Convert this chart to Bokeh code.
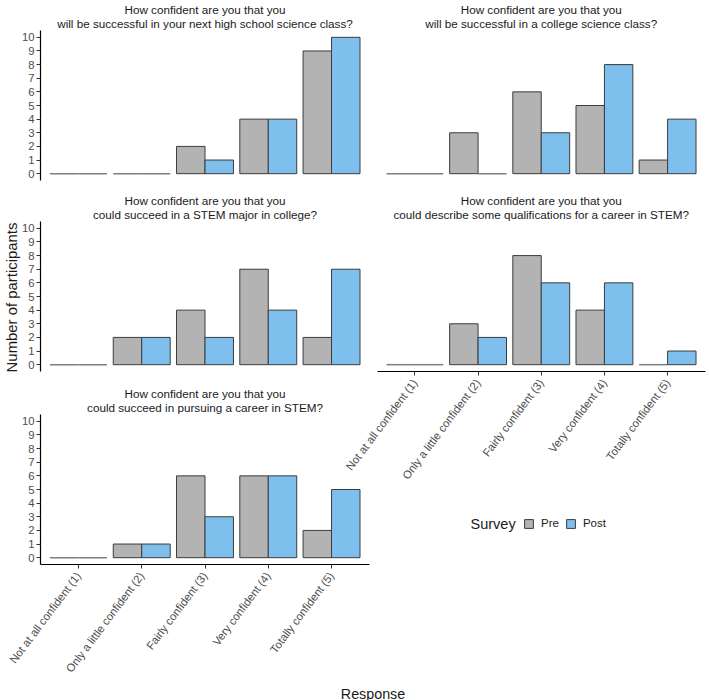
import math

from bokeh.core.properties import value
from bokeh.embed import file_html
from bokeh.models import (ColumnDataSource, FixedTicker, Grid, Legend, LegendItem,
                          LinearAxis, Range1d)
from bokeh.plotting import figure
from bokeh.resources import INLINE

# ---------------------------------------------------------------- data
responses = [
    "Not at all confident (1)",
    "Only a little confident (2)",
    "Fairly confident (3)",
    "Very confident (4)",
    "Totally confident (5)",
]
response_levels = [1, 2, 3, 4, 5]
count_ticks = list(range(0, 11))

question_stem = "How confident are you that you"
questions = [
    "will be successful in your next high school science class?",
    "will be successful in a college science class?",
    "could succeed in a STEM major in college?",
    "could describe some qualifications for a career in STEM?",
    "could succeed in pursuing a career in STEM?",
]

pre_hs_class = [0, 0, 2, 4, 9]
post_hs_class = [0, 0, 1, 4, 10]
pre_college_class = [0, 3, 6, 5, 1]
post_college_class = [0, 0, 3, 8, 4]
pre_stem_major = [0, 2, 4, 7, 2]
post_stem_major = [0, 2, 2, 4, 7]
pre_qualifications = [0, 3, 8, 4, 0]
post_qualifications = [0, 2, 6, 6, 1]
pre_career = [0, 1, 6, 6, 2]
post_career = [0, 1, 3, 6, 5]

survey_labels = ["Pre", "Post"]
survey_colors = ["#B3B3B3", "#7FBFEE"]

panel_data = [
    (pre_hs_class, post_hs_class),
    (pre_college_class, post_college_class),
    (pre_stem_major, post_stem_major),
    (pre_qualifications, post_qualifications),
    (pre_career, post_career),
]

# ---------------------------------------------------------------- layout
W, H = 709, 700
FONT = "Liberation Sans"
COL_X = [(40, 369), (376.5, 705)]          # panel frame left/right (px)
ROW_Y = [(30, 180), (221, 371), (414, 564)]  # panel frame top/bottom (px)
CELLS = [(0, 0), (0, 1), (1, 0), (1, 1), (2, 0)]
Y_AXIS_PANELS = {0, 2, 4}
X_AXIS_PANELS = {3, 4}
X_LO, X_HI = 0.4, 5.6
Y_LO, Y_HI = -0.5, 10.5
DODGE = 0.45
OUTLINE = "#3C3C3C"


def up(screen_y):
    return H - screen_y


def style_axis(ax, standoff):
    ax.axis_line_color = "black"
    ax.axis_line_width = 1.2
    ax.major_tick_line_color = "#333333"
    ax.major_tick_out = 4
    ax.major_tick_in = 0
    ax.minor_tick_line_color = None
    ax.major_label_standoff = standoff
    ax.major_label_text_font = FONT
    ax.major_label_text_font_size = "11.3px"
    ax.major_label_text_color = "#4D4D4D"


p = figure(width=W, height=H, x_range=Range1d(0, W), y_range=Range1d(0, H),
           output_backend="svg", toolbar_location=None,
           x_axis_location=None, y_axis_location=None,
           min_border=0, outline_line_color=None)

extra_x, extra_y = {}, {}
title_x, title_y, title_text = [], [], []
legend_renderers = None

for i, ((row, col), (pre, post)) in enumerate(zip(CELLS, panel_data)):
    fx0, fx1 = COL_X[col]
    ft, fb = ROW_Y[row]
    xs = (X_HI - X_LO) / (fx1 - fx0)
    ys = (Y_HI - Y_LO) / (fb - ft)
    xname, yname = f"px{i}", f"py{i}"
    extra_x[xname] = Range1d(X_LO - fx0 * xs, X_LO + (W - fx0) * xs)
    extra_y[yname] = Range1d(Y_LO - (H - fb) * ys, Y_HI + ft * ys)

    renderers = []
    for k, (counts, color) in enumerate(zip((pre, post), survey_colors)):
        offset = -DODGE if k == 0 else 0.0
        bars = dict(left=[], right=[], top=[])
        flat = dict(x0=[], x1=[])
        for lvl, n in zip(response_levels, counts):
            if n > 0:
                bars["left"].append(lvl + offset)
                bars["right"].append(lvl + offset + DODGE)
                bars["top"].append(n)
            else:
                flat["x0"].append(lvl + offset)
                flat["x1"].append(lvl + offset + DODGE)
        r = p.quad(left="left", right="right", top="top", bottom=0,
                   source=ColumnDataSource(bars), fill_color=color,
                   line_color=OUTLINE, line_width=1,
                   x_range_name=xname, y_range_name=yname)
        renderers.append(r)
        if flat["x0"]:
            src = ColumnDataSource(dict(x0=flat["x0"], x1=flat["x1"],
                                        y=[0] * len(flat["x0"])))
            p.segment(x0="x0", x1="x1", y0="y", y1="y", source=src,
                      line_color="#7F7F7F", line_width=1.5,
                      x_range_name=xname, y_range_name=yname)
    if legend_renderers is None:
        legend_renderers = renderers

    # strip title, two lines centred over the panel
    cx = (fx0 + fx1) / 2
    title_x += [cx, cx]
    title_y += [up(ft - 21), up(ft - 7)]
    title_text += [question_stem, questions[i]]

    if i in Y_AXIS_PANELS:
        ax = LinearAxis(x_range_name=xname, y_range_name=yname,
                        fixed_location=X_LO, bounds=(Y_LO, Y_HI),
                        ticker=FixedTicker(ticks=count_ticks))
        style_axis(ax, 2)
        p.add_layout(ax, "left")

    if i in X_AXIS_PANELS:
        ax = LinearAxis(x_range_name=xname, y_range_name=yname,
                        fixed_location=Y_LO, bounds=(X_LO, X_HI),
                        ticker=FixedTicker(ticks=response_levels))
        ax.major_label_overrides = {lvl: lab for lvl, lab in zip(response_levels, responses)}
        ax.major_label_orientation = math.radians(53)
        style_axis(ax, 5)
        p.add_layout(ax, "below")

p.extra_x_ranges = extra_x
p.extra_y_ranges = extra_y

# no background grid in this theme
for g in p.select(type=Grid):
    g.visible = False

p.text(x=title_x, y=title_y, text=title_text,
       text_font=value(FONT), text_font_size=value("11.7px"),
       text_color="#1A1A1A", text_align="center", text_baseline="alphabetic")

# axis titles spanning the whole facet grid
grid_cx = (COL_X[0][0] + COL_X[1][1]) / 2
grid_cy = (ROW_Y[0][0] + ROW_Y[2][1]) / 2
p.text(x=[grid_cx], y=[up(693)], text=["Response"],
       text_font=value(FONT), text_font_size=value("14.3px"),
       text_color="#1A1A1A", text_align="center", text_baseline="alphabetic")
p.text(x=[11], y=[up(grid_cy)], text=["Number of participants"], angle=math.pi / 2,
       text_font=value(FONT), text_font_size=value("14.9px"),
       text_color="#1A1A1A", text_align="center", text_baseline="middle")

# legend in the empty cell
p.text(x=[470], y=[up(523.5)], text=["Survey"],
       text_font=value(FONT), text_font_size=value("14.5px"),
       text_color="#1A1A1A", text_align="left", text_baseline="middle")
legend = Legend(
    items=[LegendItem(label=lab, renderers=[r])
           for lab, r in zip(survey_labels, legend_renderers)],
    orientation="horizontal", location=(523, up(529)),
    padding=0, margin=0, spacing=6, label_standoff=7,
    glyph_width=11, glyph_height=11, label_height=11, label_width=10,
    label_text_font=FONT, label_text_font_size="11.5px",
    label_text_color="#1A1A1A",
    border_line_color=None, background_fill_alpha=0,
)
p.add_layout(legend)

open("out.html", "w").write(file_html(p, INLINE))
